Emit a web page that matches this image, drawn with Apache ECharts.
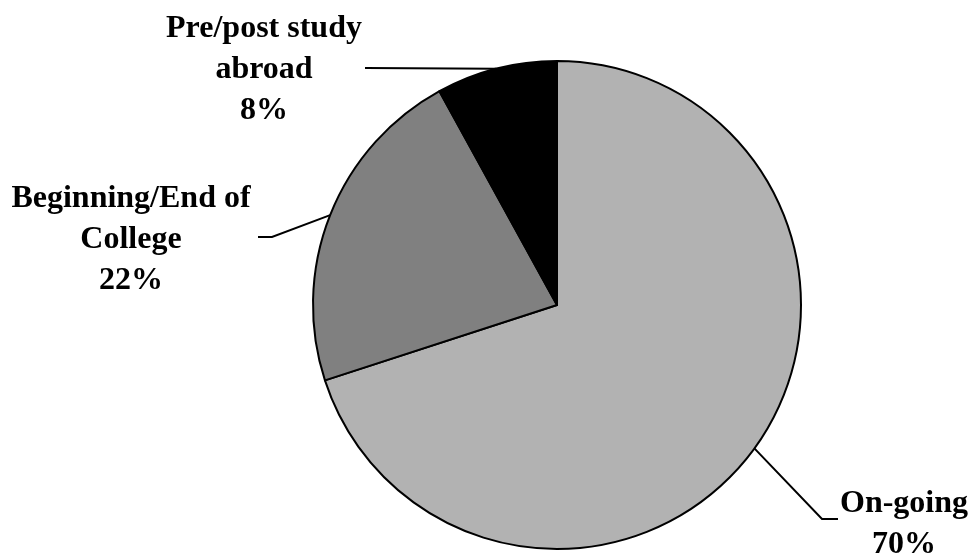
<!DOCTYPE html>
<html>
<head>
<meta charset="utf-8">
<script src="https://cdn.jsdelivr.net/npm/echarts@6/dist/echarts.min.js"></script>
<style>html,body{margin:0;padding:0;background:#fff}#c{width:975px;height:554px}</style>
</head>
<body>
<div id="c"></div>
<script>
const categories = ["On-going", "Beginning/End of\nCollege", "Pre/post study\nabroad"];
const values = [70, 22, 8];
const colors = ["#b2b2b2", "#808080", "#000000"];

// label block centres and leader elbows (layout only)
const labelPos = [[904, 524], [131, 240], [264, 70]];
const leaderTail = [[[822, 519], [838, 519]], [[272, 237], [258, 237]], [[366, 68], [365, 68]]];

const chart = echarts.init(document.getElementById('c'), null, {renderer: 'canvas'});
chart.setOption({
  backgroundColor: '#ffffff',
  animation: false,
  series: [{
    type: 'pie',
    center: [557, 305],
    radius: 244,
    startAngle: 90,
    clockwise: true,
    data: categories.map((n, i) => ({name: n, value: values[i], itemStyle: {color: colors[i]}})),
    itemStyle: {borderColor: '#000', borderWidth: 2},
    emphasis: {disabled: true},
    label: {
      show: true,
      formatter: '{b}\n{d}%',
      fontFamily: 'Liberation Serif',
      fontWeight: 'bold',
      fontSize: 32,
      lineHeight: 41,
      color: '#000',
      align: 'center'
    },
    labelLine: {show: true, lineStyle: {color: '#000', width: 2}, length: 20, length2: 20},
    labelLayout: function (params) {
      const i = params.dataIndex;
      const p0 = params.labelLinePoints ? params.labelLinePoints[0] : null;
      const res = {x: labelPos[i][0], y: labelPos[i][1], align: 'center', verticalAlign: 'middle'};
      if (p0) res.labelLinePoints = [p0, leaderTail[i][0], leaderTail[i][1]];
      return res;
    }
  }]
});
</script>
</body>
</html>
